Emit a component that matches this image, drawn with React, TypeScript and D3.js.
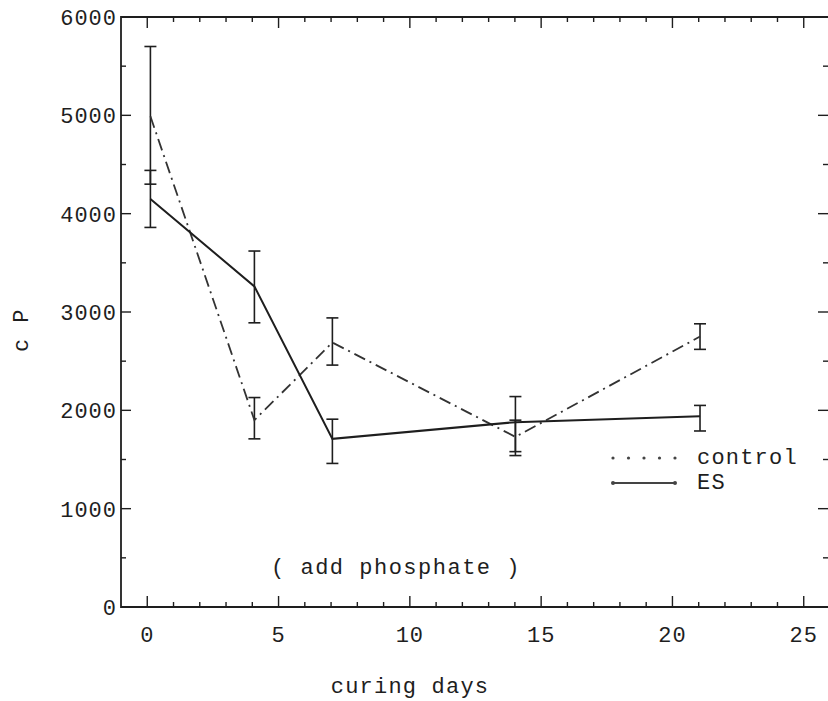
import React, { useEffect, useRef } from "react";
import * as d3 from "d3";

const days = [0.12, 4.08, 7.05, 14.02, 21.05];
const esMean = [4150, 3260, 1710, 1880, 1940];
const esLow = [3860, 2890, 1460, 1580, 1790];
const esHigh = [4440, 3620, 1910, 2140, 2050];
const ctrlMean = [4990, 1900, 2690, 1730, 2750];
const ctrlLow = [4300, 1710, 2460, 1540, 2620];
const ctrlHigh = [5700, 2130, 2940, 1900, 2880];
const xTicks = [0, 5, 10, 15, 20, 25];
const yTicks = [0, 1000, 2000, 3000, 4000, 5000, 6000];
const legendLabels = ["control", "ES"];

const FONT = "'Liberation Mono', 'DejaVu Sans Mono', monospace";

export default function App() {
  const ref = useRef<SVGSVGElement>(null);
  useEffect(() => {
    const svg = d3.select(ref.current);
    svg.selectAll("*").remove();
    const x = d3.scaleLinear().domain([-1, 26]).range([121, 830]);
    const y = d3.scaleLinear().domain([0, 6000]).range([607, 17]);
    const ink = "#1e1e1e";
    const g = svg.append("g");

    // frame
    g.append("path")
      .attr("d", `M${x(26) + 2},${y(6000)} H${x(-1)} V${y(0)} H${x(26) + 2}`)
      .attr("fill", "none").attr("stroke", ink).attr("stroke-width", 1.8);

    // x ticks (bottom + top), minor every 1
    d3.range(0, 26, 1).forEach((t) => {
      const major = t % 5 === 0;
      const len = major ? 11 : 5;
      g.append("line").attr("x1", x(t)).attr("x2", x(t))
        .attr("y1", y(0)).attr("y2", y(0) - len)
        .attr("stroke", ink).attr("stroke-width", 1.4);
      g.append("line").attr("x1", x(t)).attr("x2", x(t))
        .attr("y1", y(6000)).attr("y2", y(6000) + len)
        .attr("stroke", ink).attr("stroke-width", 1.4);
    });
    // y ticks left + right, minor every 500
    d3.range(500, 6000, 500).forEach((t) => {
      const major = t % 1000 === 0;
      const len = major ? 10 : 5;
      g.append("line").attr("x1", x(-1)).attr("x2", x(-1) + len)
        .attr("y1", y(t)).attr("y2", y(t))
        .attr("stroke", ink).attr("stroke-width", 1.4);
      g.append("line").attr("x1", 828).attr("x2", 828 - len)
        .attr("y1", y(t)).attr("y2", y(t))
        .attr("stroke", ink).attr("stroke-width", 1.4);
    });

    // tick labels
    xTicks.forEach((t) => {
      g.append("text").attr("x", x(t)).attr("y", 642)
        .attr("text-anchor", "middle").attr("font-family", FONT)
        .attr("font-size", 22).attr("letter-spacing", 1).attr("fill", ink)
        .text(String(t));
    });
    yTicks.forEach((t) => {
      g.append("text").attr("x", 117).attr("y", y(t) + 8)
        .attr("text-anchor", "end").attr("font-family", FONT)
        .attr("font-size", 22).attr("letter-spacing", 1).attr("fill", ink)
        .text(String(t));
    });

    // axis labels
    g.append("text").attr("x", 410).attr("y", 693)
      .attr("text-anchor", "middle").attr("font-family", FONT)
      .attr("font-size", 22).attr("letter-spacing", 1.2).attr("fill", ink)
      .text("curing days");
    g.append("text").attr("transform", `translate(28,330) rotate(-90)`)
      .attr("text-anchor", "middle").attr("font-family", FONT)
      .attr("font-size", 22).attr("letter-spacing", 1.5).attr("fill", ink)
      .text("c P");
    g.append("text").attr("x", 396).attr("y", 574)
      .attr("text-anchor", "middle").attr("font-family", FONT)
      .attr("font-size", 22).attr("letter-spacing", 1.5).attr("fill", ink)
      .text("( add phosphate )");

    const line = d3.line<number>().x((_, i) => x(days[i])).y((v) => y(v));

    // error bars
    const drawBars = (lo: number[], hi: number[]) => {
      days.forEach((d, i) => {
        const cx = x(d);
        g.append("line").attr("x1", cx).attr("x2", cx)
          .attr("y1", y(lo[i])).attr("y2", y(hi[i]))
          .attr("stroke", ink).attr("stroke-width", 1.6);
        [lo[i], hi[i]].forEach((v) => {
          g.append("line").attr("x1", cx - 6).attr("x2", cx + 6)
            .attr("y1", y(v)).attr("y2", y(v))
            .attr("stroke", ink).attr("stroke-width", 1.6);
        });
      });
    };
    drawBars(ctrlLow, ctrlHigh);
    drawBars(esLow, esHigh);

    g.append("path").attr("d", line(ctrlMean) || "")
      .attr("fill", "none").attr("stroke", "#333")
      .attr("stroke-width", 1.8).attr("stroke-dasharray", "12,5,2,5");
    g.append("path").attr("d", line(esMean) || "")
      .attr("fill", "none").attr("stroke", ink).attr("stroke-width", 2);

    // legend
    const lx0 = 613, lx1 = 675;
    d3.range(5).forEach((k) => {
      g.append("circle").attr("cx", lx0 + k * ((lx1 - lx0) / 4)).attr("cy", 458)
        .attr("r", 1.6).attr("fill", "#444");
    });
    g.append("line").attr("x1", lx0).attr("x2", lx1).attr("y1", 483).attr("y2", 483)
      .attr("stroke", "#444").attr("stroke-width", 2);
    [lx0, lx1].forEach((cx) => g.append("circle").attr("cx", cx).attr("cy", 483)
      .attr("r", 2).attr("fill", "#444"));
    legendLabels.forEach((lab, i) => {
      g.append("text").attr("x", 697).attr("y", 464 + i * 25)
        .attr("font-family", FONT).attr("font-size", 22)
        .attr("letter-spacing", 1.2).attr("fill", ink).text(lab);
    });
  }, []);
  return (
    <svg ref={ref} width={828} height={701}
      style={{ position: "absolute", left: 0, top: 0, background: "#fff" }} />
  );
}
